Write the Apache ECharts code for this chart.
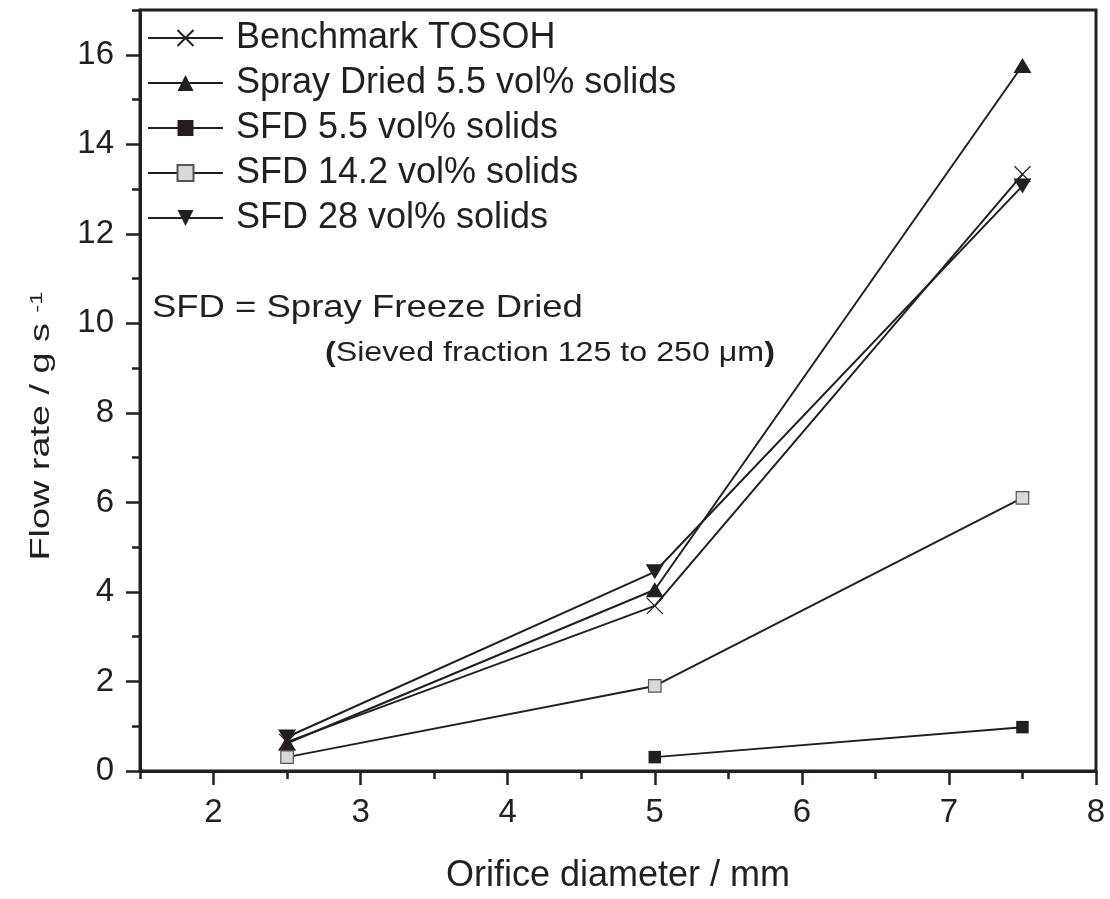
<!DOCTYPE html>
<html><head><meta charset="utf-8">
<script src="https://cdn.jsdelivr.net/npm/echarts@6/dist/echarts.min.js"></script>
<style>html,body{margin:0;padding:0;background:#fff}#c{width:1110px;height:899px}</style>
</head><body><div id="c"></div>
<script>
const xValues = [2.5, 5, 7.5];
const seriesNames = ['Benchmark TOSOH', 'Spray Dried 5.5 vol% solids', 'SFD 5.5 vol% solids', 'SFD 14.2 vol% solids', 'SFD 28 vol% solids'];
const benchmarkTosoh = [0.65, 3.69, 13.33];
const sprayDried55 = [0.62, 4.05, 15.76];
const sfd55 = [null, 0.31, 0.98];
const sfd142 = [0.31, 1.9, 6.1];
const sfd28 = [0.76, 4.45, 13.07];
const xMajorTicks = [2, 3, 4, 5, 6, 7, 8];
const xMinorTicks = [1.5, 2.5, 3.5, 4.5, 5.5, 6.5, 7.5];
const yMajorTicks = [0, 2, 4, 6, 8, 10, 12, 14, 16];
const yMinorTicks = [1, 3, 5, 7, 9, 11, 13, 15, 17];

const INK = '#231f20';
const FONT = '"Liberation Sans", Arial, sans-serif';

function pairs(ys) {
  return xValues.map((x, i) => [x, ys[i]]).filter(p => p[1] != null);
}
function lineSeries(name, ys, symbol, size, itemStyle, extra) {
  return Object.assign({
    name, type: 'line', data: pairs(ys), symbol, symbolSize: size,
    lineStyle: { color: INK, width: 2 },
    itemStyle, emphasis: { disabled: true }, animation: false
  }, extra || {});
}

const chart = echarts.init(document.getElementById('c'));
chart.setOption({
  backgroundColor: '#fff',
  animation: false,
  grid: { left: 140, right: 14, top: 10, bottom: 124, show: true, borderColor: INK, borderWidth: 3 },
  legend: {
    orient: 'vertical', left: 147, top: 20, padding: 0,
    itemWidth: 75, itemHeight: 20, itemGap: 9, selectedMode: false,
    data: seriesNames,
    textStyle: { fontSize: 36, color: INK, fontFamily: FONT, padding: [0, 0, 0, 8] }
  },
  xAxis: [{
    type: 'value', min: 1.5, max: 8, position: 'bottom',
    axisLine: { show: true, lineStyle: { color: INK, width: 3 } },
    axisTick: { show: true, customValues: xMajorTicks, length: 14, lineStyle: { color: INK, width: 2.5 } },
    axisLabel: { customValues: xMajorTicks, fontSize: 33, color: INK, margin: 25, fontFamily: FONT },
    splitLine: { show: false },
    name: 'Orifice diameter / mm', nameLocation: 'middle', nameGap: 87,
    nameTextStyle: { fontSize: 36, color: INK, fontFamily: FONT }
  }, {
    type: 'value', min: 1.5, max: 8, position: 'bottom',
    axisLine: { show: false },
    axisTick: { show: true, customValues: xMinorTicks, length: 8, lineStyle: { color: INK, width: 2.5 } },
    axisLabel: { show: false }, splitLine: { show: false }
  }],
  yAxis: [{
    type: 'value', min: 0, max: 17, position: 'left',
    axisLine: { show: true, lineStyle: { color: INK, width: 3 } },
    axisTick: { show: true, customValues: yMajorTicks, length: 14, lineStyle: { color: INK, width: 2.5 } },
    axisLabel: { customValues: yMajorTicks, fontSize: 33, color: INK, margin: 26, fontFamily: FONT },
    splitLine: { show: false }
  }, {
    type: 'value', min: 0, max: 17, position: 'left',
    axisLine: { show: false },
    axisTick: { show: true, customValues: yMinorTicks, length: 8, lineStyle: { color: INK, width: 2.5 } },
    axisLabel: { show: false }, splitLine: { show: false }
  }],
  graphic: [{
    type: 'text', x: 42, y: 426, rotation: Math.PI / 2, scaleX: 1.4,
    style: {
      text: 'Flow rate / g s {sup|-1}', fontSize: 27, fontFamily: FONT, fill: INK,
      align: 'center', verticalAlign: 'middle',
      rich: { sup: { fontSize: 17, verticalAlign: 'top', fontFamily: FONT, fill: INK } }
    }
  }, {
    type: 'text', x: 152, y: 308, scaleX: 1.14,
    style: { text: 'SFD = Spray Freeze Dried', fontSize: 32, fontFamily: FONT, fill: INK, align: 'left', verticalAlign: 'middle' }
  }, {
    type: 'text', x: 325, y: 353, scaleX: 1.15,
    style: {
      text: '{b|(}Sieved fraction 125 to 250 μm{b|)}', fontSize: 28, fontFamily: FONT, fill: INK,
      align: 'left', verticalAlign: 'middle',
      rich: { b: { fontSize: 28, fontWeight: 'bold', fontFamily: FONT, fill: INK } }
    }
  }],
  series: [
    lineSeries(seriesNames[0], benchmarkTosoh, 'path://M0,0L10,10M10,0L0,10', 16,
      { color: 'rgba(0,0,0,0)', borderColor: INK, borderWidth: 1.2 }),
    lineSeries(seriesNames[1], sprayDried55, 'triangle', [18, 15], { color: INK }),
    lineSeries(seriesNames[2], sfd55, 'rect', 12.5, { color: INK }),
    lineSeries(seriesNames[3], sfd142, 'rect', 12.5, { color: '#d9d9d9', borderColor: '#555', borderWidth: 1.2 }),
    lineSeries(seriesNames[4], sfd28, 'triangle', [18, 15], { color: INK }, { symbolRotate: 180 })
  ]
});
</script>
</body></html>
